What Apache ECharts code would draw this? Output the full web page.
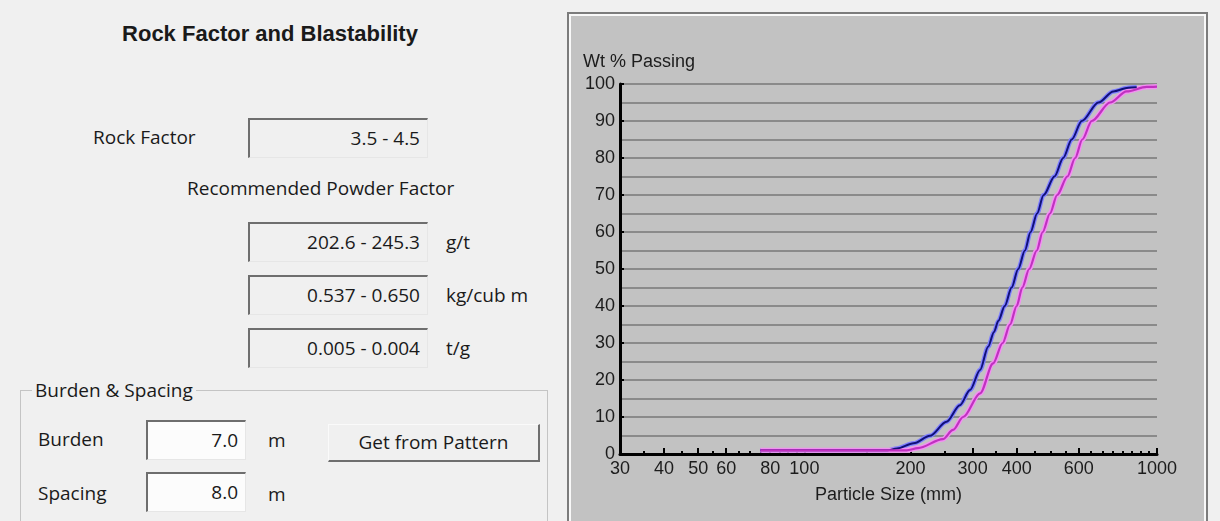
<!DOCTYPE html>
<html>
<head>
<meta charset="utf-8">
<title>Rock Factor and Blastability</title>
<script src="https://cdn.jsdelivr.net/npm/echarts/dist/echarts.min.js"></script>
<style>
  body { margin:0; width:1220px; height:521px; overflow:hidden; background:#f0f0f0;
         font-family:"Open Sans","Noto Sans",sans-serif; font-size:19px; color:#1a1a1a; position:relative; }
  .abs { position:absolute; white-space:nowrap; }
  .lbl { position:absolute; white-space:nowrap; line-height:24px; }
  .box { position:absolute; box-sizing:border-box; border-top:2px solid #6e6e6e; border-left:2px solid #6e6e6e;
         border-right:1px solid #e6e6e6; border-bottom:1px solid #e6e6e6; background:#f0f0f0;
         text-align:right; padding-right:7px; line-height:36px; }
  .inp { background:#fcfcfc; }
  .btn { position:absolute; box-sizing:border-box; border-top:1px solid #fafafa; border-left:1px solid #fafafa;
         border-right:2px solid #6e6e6e; border-bottom:2px solid #6e6e6e; background:#f0f0f0;
         text-align:center; line-height:34px; }
  .group { position:absolute; left:20px; top:390px; width:528px; height:160px; box-sizing:border-box;
           border:1px solid #c4c4c4; }
  .legend { position:absolute; left:32px; top:378px; padding:0 3px; background:#f0f0f0; line-height:24px; }
  #frame { position:absolute; left:567px; top:12px; width:641px; height:520px; box-sizing:border-box;
           border:2px solid #7c7c7c; padding:2px; background:#f8f8f8; }
  #main { width:633px; height:505px; background:#c2c2c2; }
</style>
</head>
<body>
<div class="abs" style="left:0;width:540px;top:21px;text-align:center;font:bold 22px 'Liberation Sans',Arial,sans-serif;">Rock Factor and Blastability</div>

<div class="lbl" style="left:93px;top:125px;">Rock Factor</div>
<div class="box" style="left:248px;top:118px;width:180px;height:40px;">3.5 - 4.5</div>

<div class="lbl" style="left:187px;top:176px;">Recommended Powder Factor</div>
<div class="box" style="left:248px;top:222px;width:180px;height:40px;">202.6 - 245.3</div>
<div class="lbl" style="left:446px;top:230px;">g/t</div>
<div class="box" style="left:248px;top:275px;width:180px;height:40px;">0.537 - 0.650</div>
<div class="lbl" style="left:446px;top:283px;">kg/cub m</div>
<div class="box" style="left:248px;top:328px;width:180px;height:40px;">0.005 - 0.004</div>
<div class="lbl" style="left:446px;top:336px;">t/g</div>

<div class="group"></div>
<div class="legend">Burden &amp; Spacing</div>
<div class="lbl" style="left:38px;top:427px;">Burden</div>
<div class="box inp" style="left:146px;top:420px;width:100px;height:40px;">7.0</div>
<div class="lbl" style="left:268px;top:428px;">m</div>
<div class="btn" style="left:328px;top:424px;width:212px;height:38px;">Get from Pattern</div>
<div class="lbl" style="left:38px;top:481px;">Spacing</div>
<div class="box inp" style="left:146px;top:472px;width:100px;height:40px;">8.0</div>
<div class="lbl" style="left:268px;top:482px;">m</div>

<div id="frame"><div id="main"></div></div>

<script>
// particle size tick values (mm)
var xLabelValues = [30, 40, 50, 60, 80, 100, 200, 300, 400, 600, 1000];
var xMinorTicks = [35, 45, 55, 65, 70, 75, 85, 90, 95, 150, 250, 350, 450, 500, 550, 650, 700, 750, 800, 850, 900, 950];

// cumulative % passing: [size mm, wt %]
var blueCurve = [[75,1],[172,1],[183,1.5],[204,2.9],[227,4.9],[253,8.7],[276,13.2],[295,17.3],[315,22.7],
  [332,29],[345,33],[355,36],[370,40],[387,45],[404,50],[422,55],[438,60],[457,65],[477,70],[512,75],
  [542,80],[573,85],[612,90],[682,95],[752,98],[829,99],[876,99.1]];
var magentaCurve = [[75,1],[195,1],[210,1.6],[247,4],[264,6.5],[282,10],[315,16.4],[343,24.5],[365,30],
  [383,35],[400,40],[415,45],[434,50],[456,55],[474,60],[497,65],[521,70],[557,75],[586,80],[614,85],
  [653,90],[736,95],[820,98],[935,99.2],[1000,99.3]];

var myChart = echarts.init(document.getElementById('main'));
var axisFont = { fontFamily: 'Liberation Sans', fontSize: 18, color: '#1c1c1c' };

var option = {
  animation: false,
  backgroundColor: '#c2c2c2',
  grid: { left: 49, top: 68, width: 537, height: 370 },
  xAxis: [
    {
      type: 'log', logBase: 10, min: 30, max: 1000,
      name: 'Particle Size (mm)', nameLocation: 'middle', nameGap: 32,
      nameTextStyle: axisFont,
      axisLine: { lineStyle: { color: '#000', width: 3 } },
      axisTick: { inside: true, length: 6, lineStyle: { color: '#000', width: 2 }, customValues: xLabelValues },
      axisLabel: Object.assign({
        margin: 6, customValues: xLabelValues,
        formatter: function (v) { return String(Math.round(v)); }
      }, axisFont),
      splitLine: { show: false }
    },
    {
      // minor ticks only
      type: 'log', logBase: 10, min: 30, max: 1000, position: 'bottom',
      axisLine: { show: false },
      axisTick: { inside: true, length: 3, lineStyle: { color: '#000', width: 2 }, customValues: xMinorTicks },
      axisLabel: { show: false },
      splitLine: { show: false }
    }
  ],
  yAxis: {
    type: 'value', min: 0, max: 100, interval: 10,
    name: 'Wt % Passing', nameLocation: 'end', nameGap: 13,
    nameTextStyle: Object.assign({ align: 'left', padding: [0, 0, 0, -37] }, axisFont),
    axisLine: { show: true, lineStyle: { color: '#000', width: 3 } },
    axisTick: { show: true, inside: true, length: 4, lineStyle: { color: '#000', width: 2 } },
    axisLabel: Object.assign({ margin: 5 }, axisFont),
    splitLine: { lineStyle: { color: '#8a8a8a', width: 2 } },
    minorTick: { show: false, splitNumber: 2 },
    minorSplitLine: { show: true, lineStyle: { color: '#8a8a8a', width: 2 } }
  },
  series: [
    { name: 'blue halo', type: 'line', data: blueCurve, symbol: 'none', smooth: 0.3, smoothMonotone: 'x',
      lineStyle: { color: '#7f7fff', width: 4.5 }, z: 3 },
    { name: 'magenta halo', type: 'line', data: magentaCurve, symbol: 'none', smooth: 0.3, smoothMonotone: 'x',
      lineStyle: { color: '#f290f2', width: 5 }, z: 3 },
    { name: 'blue', type: 'line', data: blueCurve, symbol: 'none', smooth: 0.3, smoothMonotone: 'x',
      lineStyle: { color: '#10107a', width: 2 }, z: 4 },
    { name: 'magenta', type: 'line', data: magentaCurve, symbol: 'none', smooth: 0.3, smoothMonotone: 'x',
      lineStyle: { color: '#c030c0', width: 2.2 }, z: 4 }
  ]
};
myChart.setOption(option);
</script>
</body>
</html>
